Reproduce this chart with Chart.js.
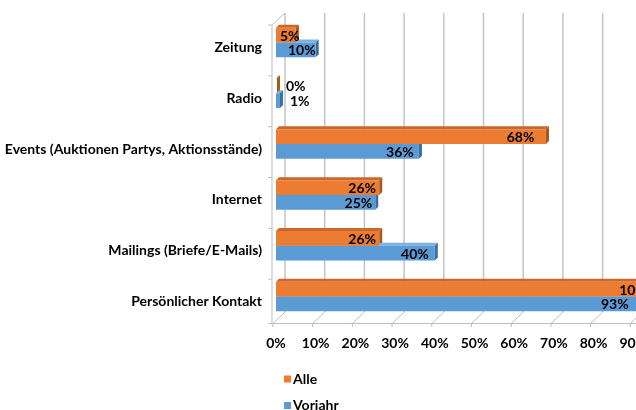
<!DOCTYPE html>
<html>
<head>
<meta charset="utf-8">
<script src="https://cdn.jsdelivr.net/npm/chart.js@4/dist/chart.umd.min.js"></script>
<style>
  html, body { margin: 0; padding: 0; background: #fff; overflow: hidden; }
  #wrap { width: 636px; height: 410px; overflow: hidden; position: relative; }
  canvas { display: block; }
</style>
</head>
<body>
<div id="wrap"><canvas id="c" width="720" height="410"></canvas></div>
<script>
const categories = ['Zeitung', 'Radio', 'Events (Auktionen Partys, Aktionsstände)', 'Internet', 'Mailings (Briefe/E-Mails)', 'Persönlicher Kontakt'];
const seriesNames = ['Alle', 'Vorjahr'];
const alle = [5, 0, 68, 26, 26, 100];
const vorjahr = [10, 1, 36, 25, 40, 93];
const xTickValues = [0, 10, 20, 30, 40, 50, 60, 70, 80, 90, 100];

const ORANGE = '#EC7C32', ORANGE_SIDE = '#A8561C', ORANGE_TOP = '#C9682A';
const BLUE = '#5B9BD5', BLUE_SIDE = '#3D6E9C', BLUE_TOP = '#7FB1DE';
const FONT = 'Lato, "Open Sans", sans-serif';

function barFill(chart, i) {
  return (c) => {
    const el = c.element;
    if (!el) return i === 0 ? ORANGE : BLUE;
    const p = el.getProps(['y', 'height'], true);
    if (!p.height) return i === 0 ? ORANGE : BLUE;
    const g = c.chart.ctx.createLinearGradient(0, p.y - p.height / 2, 0, p.y + p.height / 2);
    if (i === 0) {
      g.addColorStop(0, '#D9702C');
      g.addColorStop(0.25, '#EE7F35');
      g.addColorStop(1, '#EA7A30');
    } else {
      g.addColorStop(0, '#5896CF');
      g.addColorStop(0.75, '#5C9CD6');
      g.addColorStop(1, '#7DB2E2');
    }
    return g;
  };
}

const threeD = {
  id: 'threeD',
  beforeDatasetsDraw(chart) {
    const ctx = chart.ctx, xs = chart.scales.x, a = chart.chartArea;
    ctx.save();
    ctx.strokeStyle = '#c4c4c4';
    ctx.lineWidth = 1.5;
    xTickValues.forEach(v => {
      const X = xs.getPixelForValue(v) + 9;
      ctx.beginPath();
      ctx.moveTo(X, a.top - 4);
      ctx.lineTo(X, a.bottom - 10);
      ctx.stroke();
    });
    ctx.strokeStyle = '#bdbdbd';
    ctx.lineWidth = 1;
    const x0 = xs.getPixelForValue(0);
    ctx.beginPath();
    ctx.moveTo(x0 - 4, a.bottom + 1.5);
    ctx.lineTo(a.right + 20, a.bottom + 1.5);
    ctx.stroke();
    xTickValues.forEach(v => {
      const X = xs.getPixelForValue(v);
      ctx.beginPath();
      ctx.moveTo(X - 3, a.bottom + 1.5);
      ctx.lineTo(X + 9, a.bottom - 10);
      ctx.moveTo(X - 3, a.bottom + 1.5);
      ctx.lineTo(X - 3, a.bottom + 5);
      ctx.stroke();
    });
    ctx.beginPath();
    ctx.moveTo(x0 - 4, a.bottom + 1.5);
    ctx.lineTo(x0 - 4, a.top + 8);
    ctx.lineTo(x0 + 9, a.top - 4);
    ctx.stroke();
    const n = categories.length, ch = (a.bottom - a.top) / n;
    for (let k = 0; k <= n; k++) {
      const Y = Math.min(a.top + 8 + k * ch, a.bottom + 1.5);
      ctx.beginPath();
      ctx.moveTo(x0 - 8, Y);
      ctx.lineTo(x0 - 4, Y);
      ctx.stroke();
    }
    const dd = 3;
    chart.data.datasets.forEach((ds, i) => {
      const meta = chart.getDatasetMeta(i);
      meta.data.forEach(el => {
        const p = el.getProps(['x', 'y', 'base', 'height'], true);
        const top = p.y - p.height / 2, bot = p.y + p.height / 2;
        const xe = Math.max(p.x, p.base + 1);
        ctx.fillStyle = i === 0 ? ORANGE_TOP : BLUE_TOP;
        ctx.beginPath();
        ctx.moveTo(p.base, top);
        ctx.lineTo(xe, top);
        ctx.lineTo(xe + dd, top - dd);
        ctx.lineTo(p.base + dd, top - dd);
        ctx.closePath();
        ctx.fill();
        ctx.fillStyle = i === 0 ? ORANGE_SIDE : BLUE_SIDE;
        ctx.beginPath();
        ctx.moveTo(xe, top);
        ctx.lineTo(xe + dd, top - dd);
        ctx.lineTo(xe + dd, bot - dd);
        ctx.lineTo(xe, bot);
        ctx.closePath();
        ctx.fill();
      });
    });
    ctx.restore();
  },
  afterDatasetsDraw(chart) {
    const ctx = chart.ctx, xs = chart.scales.x;
    const x0 = xs.getPixelForValue(0);
    ctx.save();
    ctx.font = 'bold 14px ' + FONT;
    ctx.fillStyle = '#000';
    ctx.textBaseline = 'middle';
    ctx.textAlign = 'left';
    chart.data.datasets.forEach((ds, i) => {
      const meta = chart.getDatasetMeta(i);
      meta.data.forEach((el, j) => {
        const v = ds.data[j];
        const txt = v + '%';
        const w = ctx.measureText(txt).width;
        const p = el.getProps(['x', 'y'], true);
        let left;
        if (v < 3) {
          left = p.x + 10;
        } else {
          const right = Math.max(p.x + 2 - 0.2 * v, x0 + w + 4);
          left = right - w;
        }
        ctx.fillText(txt, left, p.y + 1);
      });
    });
    ctx.restore();
  },
  afterDraw(chart) {
    const ctx = chart.ctx;
    ctx.save();
    ctx.font = 'bold 14px ' + FONT;
    ctx.textBaseline = 'middle';
    ctx.textAlign = 'left';
    const items = [{ c: ORANGE, y: 379 }, { c: BLUE, y: 405.5 }];
    items.forEach((it, i) => {
      ctx.fillStyle = it.c;
      ctx.fillRect(284, it.y - 3.5, 7, 7);
      ctx.fillStyle = '#000';
      ctx.fillText(seriesNames[i], 293, it.y);
    });
    ctx.restore();
  }
};

const chart = new Chart(document.getElementById('c'), {
  type: 'bar',
  data: {
    labels: categories,
    datasets: [
      { label: seriesNames[0], data: alle, backgroundColor: barFill(null, 0), categoryPercentage: 0.58, barPercentage: 1.0 },
      { label: seriesNames[1], data: vorjahr, backgroundColor: barFill(null, 1), categoryPercentage: 0.58, barPercentage: 1.0 }
    ]
  },
  options: {
    indexAxis: 'y',
    responsive: false,
    animation: false,
    devicePixelRatio: 1,
    layout: { padding: { top: 17, right: 47, left: 0, bottom: 0 } },
    plugins: { legend: { display: false }, tooltip: { enabled: false } },
    scales: {
      x: {
        min: 0, max: 100,
        afterBuildTicks(scale) { scale.ticks = xTickValues.map(v => ({ value: v })); },
        afterFit(scale) { scale.height = 88; },
        grid: { display: false },
        border: { display: false },
        ticks: {
          padding: 5,
          color: '#000',
          font: { family: FONT, weight: 'bold', size: 14 },
          callback: v => v + '%',
          maxRotation: 0,
          autoSkip: false
        }
      },
      y: {
        afterFit(scale) { scale.width = 276; },
        grid: { display: false },
        border: { display: false },
        ticks: {
          padding: 6,
          labelOffset: 5,
          color: '#000',
          font: { family: FONT, weight: 'bold', size: 14 }
        }
      }
    }
  },
  plugins: [threeD]
});
</script>
</body>
</html>
